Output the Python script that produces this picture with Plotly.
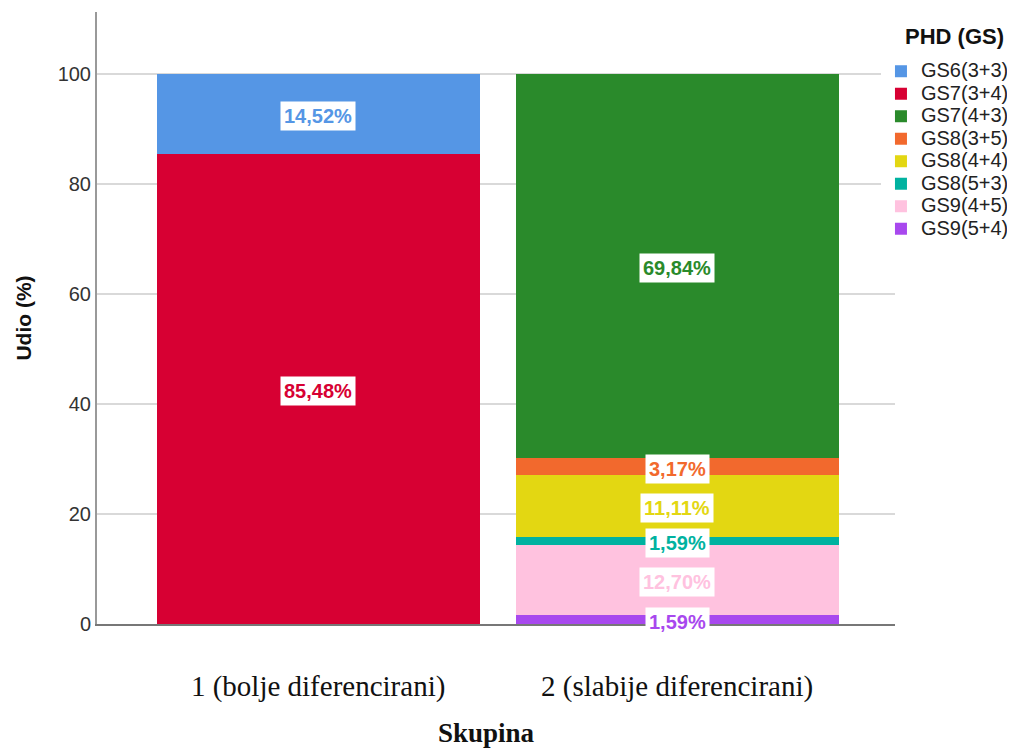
import plotly.graph_objects as go

categories = ["1 (bolje diferencirani)", "2 (slabije diferencirani)"]
# series listed bottom-of-stack first
series_names = ["GS9(5+4)", "GS9(4+5)", "GS8(5+3)", "GS8(4+4)", "GS8(3+5)", "GS7(4+3)", "GS7(3+4)", "GS6(3+3)"]
series_values = {
    "GS9(5+4)": [0, 1.59],
    "GS9(4+5)": [0, 12.70],
    "GS8(5+3)": [0, 1.59],
    "GS8(4+4)": [0, 11.11],
    "GS8(3+5)": [0, 3.17],
    "GS7(4+3)": [0, 69.84],
    "GS7(3+4)": [85.48, 0],
    "GS6(3+3)": [14.52, 0],
}
series_colors = {
    "GS9(5+4)": "#A848EE",
    "GS9(4+5)": "#FFC2DF",
    "GS8(5+3)": "#00B2A0",
    "GS8(4+4)": "#E3D712",
    "GS8(3+5)": "#F2692D",
    "GS7(4+3)": "#2A8A2B",
    "GS7(3+4)": "#D70033",
    "GS6(3+3)": "#5596E5",
}
y_ticks = [0, 20, 40, 60, 80, 100]
legend_title = "PHD (GS)"
x_title = "Skupina"
y_title = "Udio (%)"

SANS = "Liberation Sans, Arial, sans-serif"
SERIF = "Liberation Serif, Times New Roman, serif"

fig = go.Figure()
for name in series_names:
    fig.add_trace(go.Bar(
        x=[0, 1], y=series_values[name],
        name='<span style="font-size:20px">%s</span>' % name,
        marker=dict(color=series_colors[name], line=dict(width=0)),
        width=0.9, hoverinfo="skip",
    ))

annotations = []
cum = [0.0, 0.0]
for name in series_names:
    for i, v in enumerate(series_values[name]):
        if v > 0:
            mid = cum[i] + v / 2
            annotations.append(dict(
                x=i, y=mid, xref="x", yref="y",
                text="<b>" + ("%.2f%%" % v).replace(".", ",") + "</b>",
                showarrow=False, bgcolor="white", borderpad=3,
                font=dict(family=SANS, size=20, color=series_colors[name]),
                yshift=-2,
            ))
            cum[i] += v

annotations.append(dict(
    x=1.0105, y=0.9592, xref="paper", yref="paper",
    xanchor="left", yanchor="middle", showarrow=False,
    text="<b>%s</b>" % legend_title,
    font=dict(family=SANS, size=22, color="#111"),
))
annotations.append(dict(
    x=0.4887, y=-0.178, xref="paper", yref="paper",
    xanchor="center", yanchor="middle", showarrow=False,
    text="<b>%s</b>" % x_title,
    font=dict(family=SERIF, size=27, color="#111"),
))

fig.update_layout(
    barmode="stack",
    width=1007, height=740,
    margin=dict(l=89, r=120, t=4, b=124, autoexpand=False),
    plot_bgcolor="white", paper_bgcolor="white",
    showlegend=True,
    legend=dict(
        traceorder="reversed",
        xref="container", yref="container",
        x=0.8669, xanchor="left", y=0.9365, yanchor="top",
        font=dict(family=SANS, size=15, color="#222"),
        tracegroupgap=0, itemwidth=30,
    ),
    annotations=annotations,
    xaxis=dict(
        range=[-0.616, 1.607],
        tickmode="array", tickvals=[0, 1], ticktext=categories,
        tickfont=dict(family=SERIF, size=29, color="#111"),
        showline=True, linecolor="#777", linewidth=1.5,
        showgrid=False, ticks="", ticklabelstandoff=35,
        zeroline=False,
    ),
    yaxis=dict(
        range=[0, 111.2],
        tickmode="array", tickvals=y_ticks,
        tickfont=dict(family=SANS, size=20, color="#333"),
        showline=True, linecolor="#999", linewidth=2,
        showgrid=True, gridcolor="#D9D9D9", gridwidth=1.5,
        zeroline=False, ticks="",
        title=dict(text="<b>%s</b>" % y_title, font=dict(family=SANS, size=21, color="#111"), standoff=20),
    ),
)

fig.write_html("out.html")
